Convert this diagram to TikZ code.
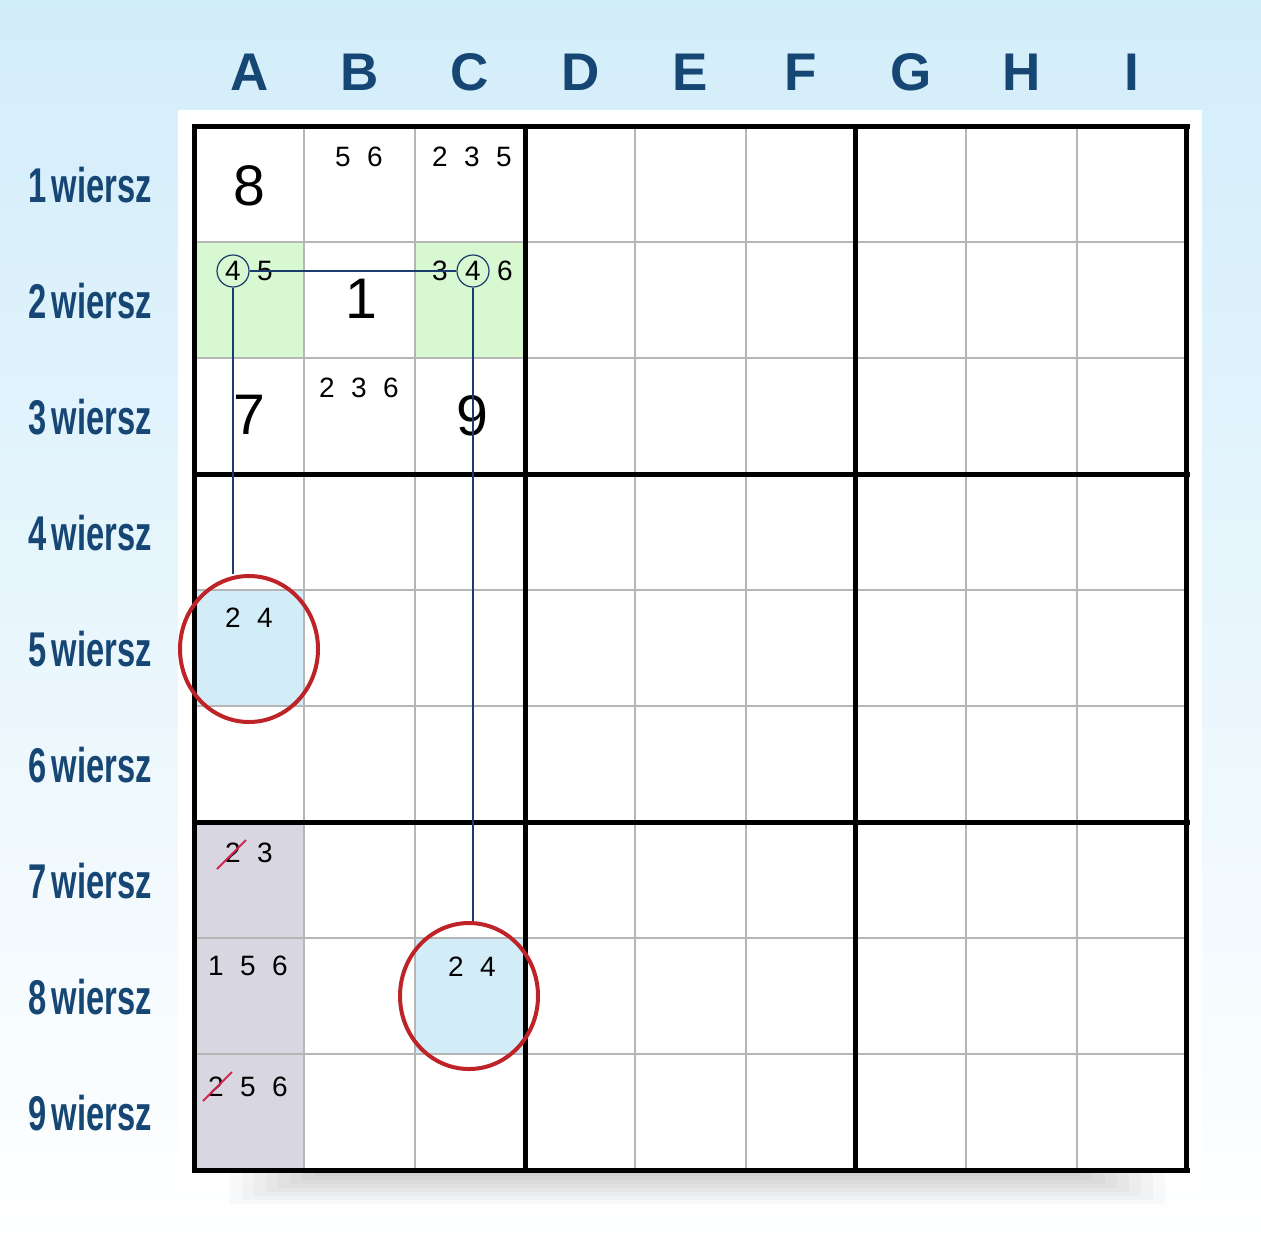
\documentclass[tikz,border=0pt]{standalone}
\usepackage{fontspec}
\setmainfont{Liberation Sans}
\newfontfamily\rowfont{Liberation Sans}[FakeStretch=0.67]
\usetikzlibrary{shapes.geometric}

\definecolor{labelblue}{RGB}{22,70,115}
\definecolor{linkblue}{RGB}{26,60,110}
\definecolor{ringred}{RGB}{190,35,40}
\definecolor{strikered}{RGB}{210,40,80}
\definecolor{pairgreen}{RGB}{215,248,208}
\definecolor{targetblue}{RGB}{210,236,248}
\definecolor{boxgray}{RGB}{216,214,224}
\definecolor{thingray}{RGB}{182,182,182}
\definecolor{skyblue}{RGB}{210,237,250}

\newcommand{\gap}{\hspace{8.2pt}}

\begin{document}
\begin{tikzpicture}[x=0.5pt, y=-0.5pt,
    colhead/.style={font=\fontsize{26.5}{28}\selectfont\bfseries, text=labelblue},
    rowhead/.style={font=\rowfont\fontsize{24.4}{26}\selectfont\bfseries, text=labelblue},
    given/.style={font=\fontsize{28.6}{30}\selectfont, inner sep=0pt},
    cand/.style={font=\fontsize{14}{16}\selectfont, inner sep=0pt},
    pick/.style={cand, circle, draw=linkblue, line width=0.6pt, minimum size=16pt},
    ring/.style={ellipse, draw=ringred, line width=2pt, minimum width=69pt, minimum height=73pt, inner sep=0pt},
    thinline/.style={draw=thingray, line width=1pt},
    boxline/.style={draw=black, line width=2.5pt, line cap=rect},
    link/.style={draw=linkblue, line width=0.7pt},
    strike/.style={draw=strikered, line width=1pt}]
    \useasboundingbox (0,0) rectangle (1261,1247);

    % Background, panel and shadow
    \shade[top color=skyblue, bottom color=white] (0,0) rectangle (1261,1247);
    \fill[white] (178,110) rectangle (1202,1186);
    \foreach \s in {0,...,7}
        \fill[black, opacity=0.022] ({230+12*\s},1172) rectangle ({1165-12*\s},{1204-4*\s});

    % Cell fills
    \fill[pairgreen] (194,242) rectangle (304,358);
    \fill[pairgreen] (415,242) rectangle (525,358);
    \fill[targetblue] (194,590) rectangle (304,706);
    \fill[targetblue] (415,938) rectangle (525,1054);
    \fill[boxgray] (194,822) rectangle (304,1170);

    % Grid
    \foreach \k in {1,2,4,5,7,8} {
        \draw[thinline] ({194+110.33*\k},126) -- ({194+110.33*\k},1170);
        \draw[thinline] (194,{126+116*\k}) -- (1187,{126+116*\k});
    }
    \foreach \k in {0,3,6,9} {
        \draw[boxline] ({194+110.33*\k},126) -- ({194+110.33*\k},1170);
        \draw[boxline] (194,{126+116*\k}) -- (1187,{126+116*\k});
    }

    % Headers
    \foreach \l [count=\i from 0] in {A,B,C,D,E,F,G,H,I}
        \node[colhead] (col\l) at ({194+110.33*(\i+0.5)},72) {\l};
    \foreach \r in {1,...,9}
        \node[rowhead] (row\r) at (90,{126+116*(\r-0.5)+1}) {\r\hspace{2.6pt}wiersz};

    % Given digits
    \node[given] (a1) at (249,186) {8};
    \node[given] (b2) at (361,299) {1};
    \node[given] (a3) at (249,415) {7};
    \node[given] (c3) at (472,416) {9};

    % Candidates
    \node[cand] (b1) at (359,157) {5\gap6};
    \node[cand] (c1) at (472,157) {2\gap3\gap5};
    \node[cand] (b3) at (359,388) {2\gap3\gap6};
    \node[pick] (pa) at (233,271) {4};
    \node[cand] (a2) at (265,271) {5};
    \node[cand] (c2l) at (440,271) {3};
    \node[pick] (pc) at (473,271) {4};
    \node[cand] (c2r) at (505,271) {6};
    \node[cand] (a5) at (249,618) {2\gap4};
    \node[cand] (c8) at (472,967) {2\gap4};
    \node[cand] (a7) at (249,853) {2\gap3};
    \node[cand] (a8) at (248,966) {1\gap5\gap6};
    \node[cand] (a9) at (248,1087) {2\gap5\gap6};

    % Rings
    \node[ring] (r5) at (249,649) {};
    \node[ring] (r8) at (469,996) {};

    % Links
    \draw[link] (pa) -- (pc);
    \draw[link] (pa.south) -- (pa.south |- r5.north);
    \draw[link] (pc.south) -- (pc.south |- r8.north);

    % Struck candidates
    \draw[strike] (217,869) -- (246,840);
    \draw[strike] (203,1101) -- (232,1072);
\end{tikzpicture}
\end{document}
